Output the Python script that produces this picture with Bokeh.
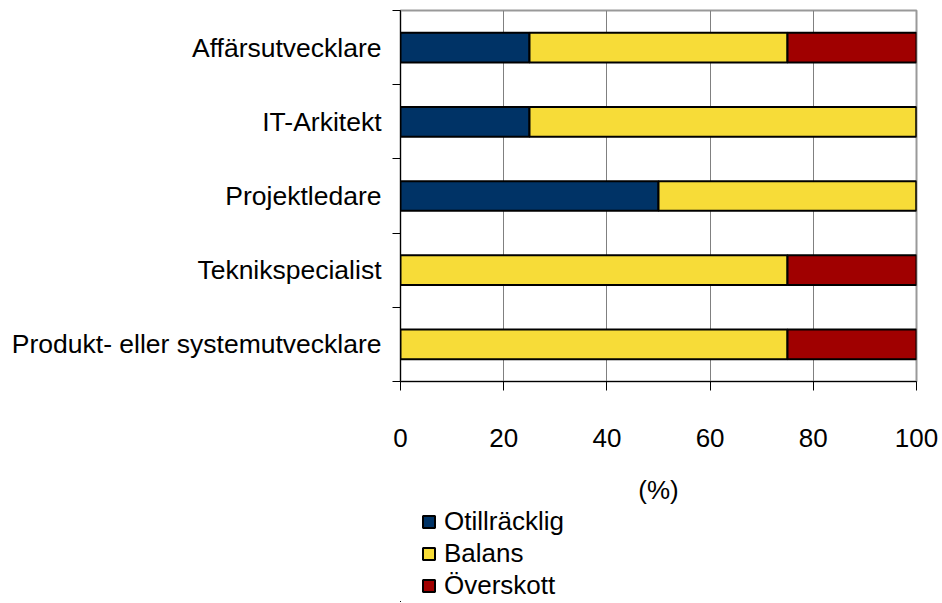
from bokeh.plotting import figure
from bokeh.models import FixedTicker, Legend, LegendItem, Range1d, ColumnDataSource
from bokeh.layouts import column
from bokeh.embed import file_html
from bokeh.resources import INLINE

categories = ["Affärsutvecklare", "IT-Arkitekt", "Projektledare",
              "Teknikspecialist", "Produkt- eller systemutvecklare"]
otillracklig = [25, 25, 50, 0, 0]
balans = [50, 75, 50, 75, 75]
overskott = [25, 0, 0, 25, 25]
series_names = ["Otillräcklig", "Balans", "Överskott"]
colors = ["#003366", "#F7DC38", "#A00000"]
x_ticks = [0, 20, 40, 60, 80, 100]
x_label = "(%)"

n = len(categories)
ypos = [n - i - 0.5 for i in range(n)]
src = ColumnDataSource(dict(y=ypos, o=otillracklig, b=balans, v=overskott))

FONT = "Liberation Sans"
FS = "26px"

p = figure(width=938, height=507, output_backend="svg", toolbar_location=None,
           x_range=Range1d(0, 100), y_range=Range1d(0, n),
           min_border_left=400, min_border_right=22, min_border_top=10,
           min_border_bottom=126)

rs = p.hbar_stack(["o", "b", "v"], y="y", height=0.4, source=src,
                  fill_color=colors, line_color="black", line_width=2)

p.outline_line_color = "#999999"
p.outline_line_width = 2
p.background_fill_color = "white"
p.border_fill_color = "white"

p.ygrid.visible = False
p.xgrid.grid_line_color = "#808080"
p.xgrid.grid_line_width = 1
p.xgrid.ticker = FixedTicker(ticks=x_ticks[1:-1])

xa = p.xaxis[0]
xa.ticker = FixedTicker(ticks=x_ticks)
xa.axis_line_color = "black"
xa.major_tick_line_color = "black"
xa.major_tick_in = 0
xa.major_tick_out = 9
xa.minor_tick_line_color = None
xa.major_label_text_font = FONT
xa.major_label_text_font_size = FS
xa.major_label_text_color = "black"
xa.major_label_standoff = 38
xa.axis_label = x_label
xa.axis_label_text_font = FONT
xa.axis_label_text_font_size = FS
xa.axis_label_text_font_style = "normal"
xa.axis_label_text_color = "black"
xa.axis_label_standoff = 25

ya = p.yaxis[0]
ya.ticker = FixedTicker(ticks=ypos, minor_ticks=list(range(n + 1)))
ya.major_label_overrides = {y: c for y, c in zip(ypos, categories)}
ya.axis_line_color = "black"
ya.major_tick_in = 0
ya.major_tick_out = 0
ya.minor_tick_in = 0
ya.minor_tick_out = 8
ya.minor_tick_line_color = "black"
ya.major_label_text_font = FONT
ya.major_label_text_font_size = "26.5px"
ya.major_label_text_color = "black"
ya.major_label_standoff = 11

# legend panel (same series, drawn outside its visible range; only the legend shows)
p2 = figure(width=938, height=95, output_backend="svg", toolbar_location=None,
            x_axis_location=None, y_axis_location=None,
            x_range=Range1d(1000, 1001), y_range=Range1d(1000, 1001),
            min_border_left=400, min_border_right=22, min_border_top=0,
            min_border_bottom=0)
p2.grid.visible = False
p2.outline_line_color = None
p2.background_fill_color = "white"
p2.border_fill_color = "white"

lr = p2.hbar_stack(["o", "b", "v"], y="y", height=0.4, source=src,
                   fill_color=colors, line_color="black", line_width=2)

legend = Legend(items=[LegendItem(label=s, renderers=[r]) for s, r in zip(series_names, lr)],
                location=(21, 1), orientation="vertical",
                glyph_width=15, glyph_height=15, label_height=30, spacing=1,
                label_standoff=8, padding=0, margin=0,
                border_line_color=None, background_fill_alpha=0,
                label_text_font=FONT, label_text_font_size=FS,
                label_text_color="black")
p2.add_layout(legend, "center")

layout = column(p, p2, spacing=0)
open("out.html", "w").write(file_html(layout, INLINE))
